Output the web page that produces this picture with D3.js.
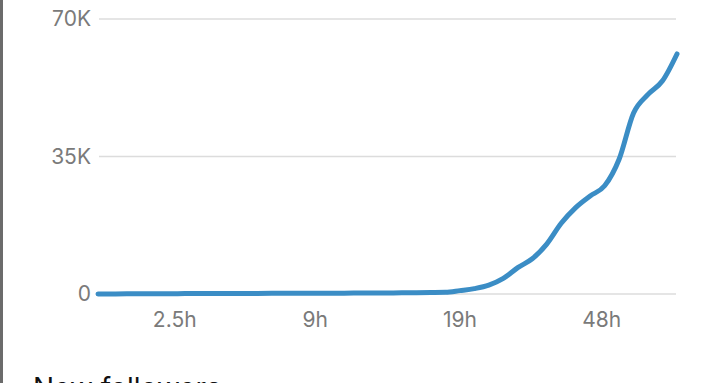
<!DOCTYPE html>
<html>
<head>
<meta charset="utf-8">
<script src="https://cdn.jsdelivr.net/npm/d3@7"></script>
<style>
  html, body { margin: 0; padding: 0; background: #fff; overflow: hidden; }
  body { width: 720px; height: 383px; }
  text { font-family: Inter, Roboto, "Noto Sans", sans-serif; }
</style>
</head>
<body>
<script>
// follower counts, one point per step along the time axis
let followers = [
    0, 20, 40, 55, 70, 85, 100, 110, 120, 130,
    140, 150, 160, 170, 180, 190, 200, 215, 230, 250,
    270, 290, 320, 360, 420, 860, 1370, 2240, 3950, 6700,
    8960, 12700, 18000, 22000, 24950, 27540, 34300, 46070, 50800, 54270,
    61100
];
let yTicks = [0, 35000, 70000];
let yTickLabels = ["0", "35K", "70K"];
let xTickIdx = [5.3, 15, 25, 34.8];
let xTickLabels = ["2.5h", "9h", "19h", "48h"];

let width = 720, height = 383;

let svg = d3.select("body")
    .append("svg")
    .attr("width", width)
    .attr("height", height);

let x = d3.scaleLinear()
    .domain([0, followers.length - 1])
    .range([98, 677]);

let y = d3.scaleLinear()
    .domain([0, 70000])
    .range([294, 19]);

// left edge border
svg.append("rect")
    .attr("x", 0).attr("y", 0)
    .attr("width", 3).attr("height", height)
    .attr("fill", "#6b6b6b");

// gridlines
svg.append("g")
    .selectAll("line")
    .data(yTicks)
    .join("line")
    .attr("x1", 99)
    .attr("x2", 676)
    .attr("y1", d => y(d))
    .attr("y2", d => y(d))
    .style("stroke", "#dcdcdc")
    .style("stroke-width", 1.5);

// y labels
svg.append("g")
    .selectAll("text")
    .data(yTicks)
    .join("text")
    .attr("x", 91)
    .attr("y", d => y(d) + 7)
    .attr("text-anchor", "end")
    .attr("fill", "#7a7a7a")
    .style("font-size", "21px")
    .text((d, i) => yTickLabels[i]);

// x labels
svg.append("g")
    .selectAll("text")
    .data(xTickIdx)
    .join("text")
    .attr("x", d => x(d))
    .attr("y", 327)
    .attr("text-anchor", "middle")
    .attr("fill", "#7a7a7a")
    .style("font-size", "21px")
    .text((d, i) => xTickLabels[i]);

let line = d3.line()
    .x((d, i) => x(i))
    .y(d => y(d))
    .curve(d3.curveMonotoneX);

svg.append("path")
    .datum(followers)
    .attr("d", line)
    .attr("fill", "none")
    .style("stroke", "#3b8dc5")
    .style("stroke-width", 5)
    .style("stroke-linecap", "round")
    .style("stroke-linejoin", "round");

// section title, cut off by the bottom of the frame like in the source
svg.append("text")
    .attr("x", 33)
    .attr("y", 398)
    .attr("fill", "#111")
    .style("font-size", "28px")
    .text("New followers");
</script>
</body>
</html>
